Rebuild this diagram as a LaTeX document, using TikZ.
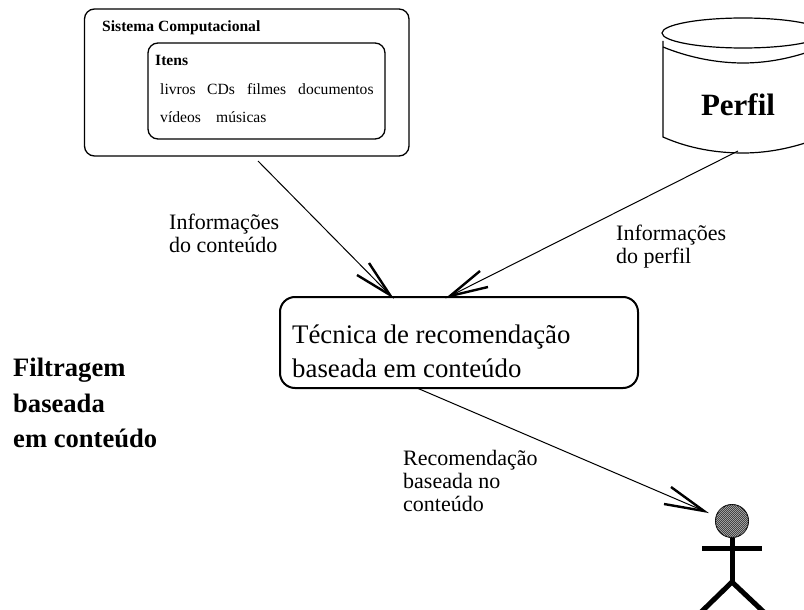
\documentclass[tikz,border=0pt]{standalone}
\usepackage{fontspec}
\setmainfont{Liberation Serif}
\usetikzlibrary{shapes.geometric,patterns}
\pgfdeclarepatternformonly{finehatch}{\pgfqpoint{-1pt}{-1pt}}{\pgfqpoint{3pt}{3pt}}{\pgfqpoint{2pt}{2pt}}{%
  \pgfsetlinewidth{0.7pt}
  \pgfpathmoveto{\pgfqpoint{-1pt}{-1pt}}
  \pgfpathlineto{\pgfqpoint{3pt}{3pt}}
  \pgfusepath{stroke}}
\tikzset{
  box/.style={draw,rounded corners=#1,inner sep=0pt,line width=1.3pt},
  txt/.style={anchor=base west,inner sep=0pt,font=\fontsize{#1}{#1}\selectfont},
  btxt/.style={anchor=base west,inner sep=0pt,font=\fontsize{#1}{#1}\selectfont\bfseries},
  link/.style={line width=1pt},
  barb/.style={line width=2.4pt,line join=miter},
  limb/.style={line width=5pt},
}
\begin{document}
\begin{tikzpicture}[x=1pt,y=-1pt]
\useasboundingbox (0,0) rectangle (804,610);
\clip (0,0) rectangle (804,610);
% boxes
\node[box=10pt,minimum width=324.5pt,minimum height=147pt] (sis) at (246.75,82.5) {};
\node[box=10pt,minimum width=237pt,minimum height=96pt] (itens) at (266.5,91) {};
\node[box=15pt,line width=2pt,minimum width=358pt,minimum height=91pt] (tec) at (459,342.5) {};
% box texts
\node[btxt=15.6] (t1) at (102,32) {Sistema Computacional};
\node[btxt=15.6] (t2) at (155,66) {Itens};
\node[txt=15.6] (i1) at (160,95) {livros};
\node[txt=15.6] (i2) at (207,95) {CDs};
\node[txt=15.6] (i3) at (247,95) {filmes};
\node[txt=15.6] (i4) at (298,95) {documentos};
\node[txt=15.6] (i5) at (160,123) {vídeos};
\node[txt=15.6] (i6) at (216,123) {músicas};
\node[txt=26.8] (t3) at (292,343) {Técnica de recomendação};
\node[txt=26.8] (t4) at (292,377.5) {baseada em conteúdo};
% cylinder
\node[draw,ellipse,line width=1.2pt,minimum width=162pt,minimum height=30pt,inner sep=0pt] (cyl) at (743,33) {};
\coordinate (cl1) at (663,41);
\coordinate (cl2) at (663,137);
\coordinate (cr1) at (824,46);
\coordinate (cr2) at (824,136);
\draw[line width=1.2pt] (cl1) -- (cl2) .. controls (690,149) and (718,153) .. (743,153) .. controls (770,153) and (798,147) .. (cr2);
\coordinate (cm1) at (663,47);
\draw[line width=1.2pt] (cm1) .. controls (690,58) and (718,63) .. (743,63) .. controls (770,63) and (798,57) .. (cr1);
\node[btxt=31,anchor=base] (perfil) at (738,116) {Perfil};
% labels
\node[txt=22] (a1) at (169,229.5) {Informações};
\node[txt=22] (a2) at (169,252.5) {do conteúdo};
\node[txt=22] (b1) at (616,240.5) {Informações};
\node[txt=22] (b2) at (616,263.5) {do perfil};
\node[txt=22] (c1) at (403,465.5) {Recomendação};
\node[txt=22] (c2) at (403,488.5) {baseada no};
\node[txt=22] (c3) at (403,511.5) {conteúdo};
\node[btxt=26.6] (f1) at (13,376) {Filtragem};
\node[btxt=26.6] (f2) at (13,412) {baseada};
\node[btxt=26.6] (f3) at (13,447) {em conteúdo};
% arrows
\coordinate (s1) at (258,161);
\coordinate (tipa) at (390,295);
\coordinate (a1b) at (369,263);
\coordinate (a2b) at (357,275);
\draw[link] (s1) -- (tipa);
\draw[barb] (a1b) -- (tipa) -- (a2b);
\coordinate (s2) at (738,151);
\coordinate (tipb) at (450,296);
\coordinate (b1b) at (480,271);
\coordinate (b2b) at (488,287);
\draw[link] (s2) -- (tipb);
\draw[barb] (b1b) -- (tipb) -- (b2b);
\coordinate (s3) at (417,388);
\coordinate (tipc) at (704,511);
\coordinate (c1b) at (671,487);
\coordinate (c2b) at (664,504);
\draw[link] (s3) -- (tipc);
\draw[barb] (c1b) -- (tipc) -- (c2b);
% person
\node[circle,draw,line width=1pt,fill=gray!45,minimum size=33pt,inner sep=0pt,postaction={pattern=finehatch,pattern color=black!75}] (head) at (732,521) {};
\coordinate (neck) at (732,538);
\coordinate (hip) at (732,582);
\coordinate (armL) at (702,548);
\coordinate (armR) at (762,548);
\coordinate (legL) at (697,616);
\coordinate (legR) at (768,616);
\draw[limb] (neck) -- (hip);
\draw[limb] (armL) -- (armR);
\draw[limb,line join=miter] (legL) -- (hip) -- (legR);
\end{tikzpicture}
\end{document}
